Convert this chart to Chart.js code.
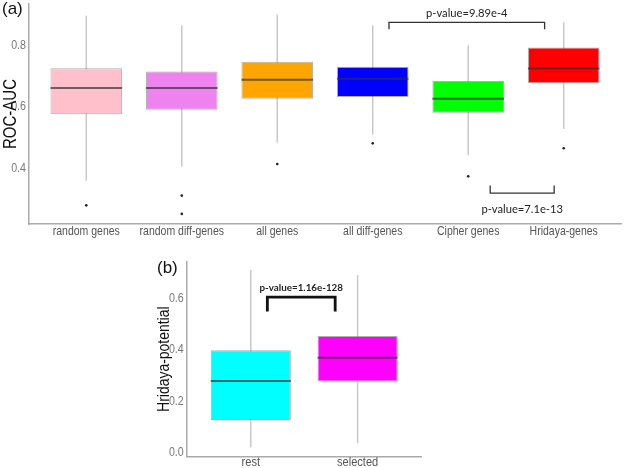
<!DOCTYPE html>
<html>
<head>
<meta charset="utf-8">
<script src="https://cdn.jsdelivr.net/npm/chart.js@4/dist/chart.umd.min.js"></script>
<style>
  body { margin: 0; background: #fff; }
  #wrap { position: relative; width: 625px; height: 468px; overflow: hidden; }
  canvas { position: absolute; }
</style>
</head>
<body>
<div id="wrap">
  <canvas id="chartA" width="625" height="245" style="left:0;top:0"></canvas>
  <canvas id="chartB" width="310" height="218" style="left:130px;top:250px"></canvas>
</div>
<script>
// ---- panel (a): ROC-AUC per gene set ----
const categoriasA = ['random genes', 'random diff-genes', 'all genes', 'all diff-genes', 'Cipher genes', 'Hridaya-genes'];
const coloresA = ['#FFC0CB', '#EE82EE', '#FFA500', '#0000FF', '#00FF00', '#FF0000'];
const bigoteMinA = [0.357, 0.403, 0.481, 0.508, 0.440, 0.526];
const q1A = [0.574, 0.589, 0.625, 0.631, 0.579, 0.676];
const medianaA = [0.660, 0.660, 0.687, 0.690, 0.625, 0.724];
const q3A = [0.725, 0.714, 0.746, 0.730, 0.683, 0.793];
const bigoteMaxA = [0.897, 0.865, 0.900, 0.865, 0.800, 0.875];
// outliers: [category (1-based), value]
const atipicosA = [[1, 0.276], [2, 0.308], [2, 0.248], [3, 0.411], [4, 0.479], [5, 0.371], [6, 0.463]];
const ticksYA = [0.4, 0.6, 0.8];
// comparisons: [x from, x to, y bar, y leg end, label, label y]
const comparacionesA = [
  [4.17, 5.80, 0.875, 0.852, 'p-value=9.89e-4', 0.905],
  [5.23, 5.90, 0.316, 0.341, 'p-value=7.1e-13', 0.262]
];

// ---- panel (b): Hridaya-potential ----
const categoriasB = ['rest', 'selected'];
const coloresB = ['#00FFFF', '#FF00FF'];
const bigoteMinB = [0.017, 0.033];
const q1B = [0.124, 0.274];
const medianaB = [0.276, 0.367];
const q3B = [0.397, 0.452];
const bigoteMaxB = [0.711, 0.691];
const ticksYB = [0.0, 0.2, 0.4, 0.6];
const comparacionesB = [
  [1.155, 1.79, 0.604, 0.548, 'p-value=1.16e-128', 0.641]
];

const fuente = "'Liberation Sans', Arial, sans-serif";
const angosto = 0.82; // horizontal squeeze, the original labels are condensed

function armarDatasets(cats, colores, lo, q1, med, q3, hi, atipicos) {
  const x = cats.map((c, i) => i + 1);
  const ds = [
    {
      type: 'bar', label: 'whisker', order: 3, grouped: false,
      data: x.map((v, i) => ({ x: v, y: [lo[i], hi[i]] })),
      backgroundColor: '#c8c8c8', maxBarThickness: 1.5, borderWidth: 0
    },
    {
      type: 'bar', label: 'box', order: 2, grouped: false,
      data: x.map((v, i) => ({ x: v, y: [q1[i], q3[i]] })),
      backgroundColor: colores, borderColor: 'rgba(80,80,80,0.45)', borderWidth: 1,
      borderSkipped: false, categoryPercentage: 0.75, barPercentage: 1
    }
  ];
  if (atipicos) {
    ds.push({
      type: 'scatter', label: 'outliers', order: 1,
      data: atipicos.map(p => ({ x: p[0], y: p[1] })),
      backgroundColor: '#222', borderWidth: 0, pointRadius: 1.3
    });
  }
  return ds;
}

function textoAngosto(ctx, txt, x, y, rot) {
  ctx.save();
  ctx.translate(x, y);
  if (rot) ctx.rotate(rot);
  ctx.scale(angosto, 1);
  ctx.fillText(txt, 0, 0);
  ctx.restore();
}

// medians, brackets, axis labels and titles, all placed through the chart scales
function pluginAnotaciones(cats, ticksY, medianas, comparaciones, opts) {
  return {
    id: 'anotaciones',
    afterDatasetsDraw(chart) {
      const { ctx, scales: { x, y }, chartArea } = chart;
      ctx.save();
      ctx.strokeStyle = 'rgba(50,50,50,0.7)';
      ctx.lineWidth = 2;
      medianas.forEach((m, i) => {
        const py = y.getPixelForValue(m);
        ctx.beginPath();
        ctx.moveTo(x.getPixelForValue(i + 1 - 0.375), py);
        ctx.lineTo(x.getPixelForValue(i + 1 + 0.375), py);
        ctx.stroke();
      });
      comparaciones.forEach(c => {
        const x1 = x.getPixelForValue(c[0]);
        const x2 = x.getPixelForValue(c[1]);
        const yb = y.getPixelForValue(c[2]);
        const yl = y.getPixelForValue(c[3]);
        ctx.strokeStyle = opts.colorCorchete;
        ctx.lineWidth = opts.anchoCorchete;
        ctx.beginPath();
        ctx.moveTo(x1, yl);
        ctx.lineTo(x1, yb);
        ctx.lineTo(x2, yb);
        ctx.lineTo(x2, yl);
        ctx.stroke();
        ctx.fillStyle = '#222';
        ctx.font = opts.fuenteTexto;
        ctx.textAlign = 'center';
        ctx.textBaseline = 'middle';
        ctx.fillText(c[4], (x1 + x2) / 2, y.getPixelForValue(c[5]));
      });

      // category labels
      ctx.fillStyle = '#555';
      ctx.font = opts.tamX + 'px ' + fuente;
      ctx.textAlign = 'center';
      ctx.textBaseline = 'alphabetic';
      cats.forEach((c, i) => textoAngosto(ctx, c, x.getPixelForValue(i + 1), chartArea.bottom + opts.baseX));

      // y tick labels
      ctx.fillStyle = '#777';
      ctx.font = '13px ' + fuente;
      ctx.textAlign = 'right';
      ctx.textBaseline = 'middle';
      ticksY.forEach(v => textoAngosto(ctx, v.toFixed(1), chartArea.left - 3, y.getPixelForValue(v) + 0.5));

      // y title
      ctx.fillStyle = '#111';
      ctx.font = opts.tamTitulo + 'px ' + fuente;
      ctx.textAlign = 'center';
      textoAngosto(ctx, opts.titulo, opts.tituloX, (chartArea.top + chartArea.bottom) / 2, -Math.PI / 2);

      // panel letter
      ctx.font = '17px ' + fuente;
      ctx.textAlign = 'left';
      ctx.fillText(opts.panel, opts.panelX, opts.panelY);
      ctx.restore();
    }
  };
}

function opcionesEscalas(cats, xMin, xMax, yMin, yMax, anchoY, altoX, marcas) {
  return {
    x: {
      type: 'linear', min: xMin, max: xMax, offset: false, bounds: 'data',
      grid: { display: false, drawTicks: marcas, tickLength: 3, tickColor: '#bbb' },
      border: { color: '#aaa', width: 1.5 },
      afterBuildTicks: s => { s.ticks = cats.map((c, i) => ({ value: i + 1 })); },
      afterFit: s => { s.height = altoX; s.paddingLeft = 0; s.paddingRight = 0; },
      ticks: { display: false, autoSkip: false, maxRotation: 0 }
    },
    y: {
      type: 'linear', min: yMin, max: yMax, bounds: 'data',
      grid: { display: false, drawTicks: false },
      border: { color: '#aaa', width: 1.5 },
      afterFit: s => { s.width = anchoY; s.paddingTop = 0; s.paddingBottom = 0; },
      ticks: { display: false }
    }
  };
}

const comunes = {
  responsive: false,
  animation: false,
  plugins: { legend: { display: false }, tooltip: { enabled: false } }
};

new Chart(document.getElementById('chartA'), {
  type: 'bar',
  data: { datasets: armarDatasets(categoriasA, coloresA, bigoteMinA, q1A, medianaA, q3A, bigoteMaxA, atipicosA) },
  options: Object.assign({}, comunes, {
    layout: { padding: { top: 1, right: 1.5, bottom: 0, left: 0 } },
    scales: opcionesEscalas(categoriasA, 0.4, 6.6, 0.215, 0.935, 29, 21, true)
  }),
  plugins: [pluginAnotaciones(categoriasA, ticksYA, medianaA, comparacionesA, {
    colorCorchete: '#333', anchoCorchete: 1.3,
    fuenteTexto: "11.2px Lato, 'Open Sans', sans-serif",
    tamX: 12.8, baseX: 11, tamTitulo: 18.3, titulo: 'ROC-AUC', tituloX: 10.5,
    panel: '(a)', panelX: 2, panelY: 9
  })]
});

new Chart(document.getElementById('chartB'), {
  type: 'bar',
  data: { datasets: armarDatasets(categoriasB, coloresB, bigoteMinB, q1B, medianaB, q3B, bigoteMaxB, null) },
  options: Object.assign({}, comunes, {
    layout: { padding: { top: 11.7, right: 18.3, bottom: 0, left: 0 } },
    scales: opcionesEscalas(categoriasB, 0.4, 2.6, -0.02, 0.743, 56.7, 11.3, false)
  }),
  plugins: [pluginAnotaciones(categoriasB, ticksYB, medianaB, comparacionesB, {
    colorCorchete: '#111', anchoCorchete: 2.8,
    fuenteTexto: "bold 9.8px Lato, 'Open Sans', sans-serif",
    tamX: 13.5, baseX: 9.5, tamTitulo: 17, titulo: 'Hridaya-potential', tituloX: 34,
    panel: '(b)', panelX: 27, panelY: 18
  })]
});
</script>
</body>
</html>
